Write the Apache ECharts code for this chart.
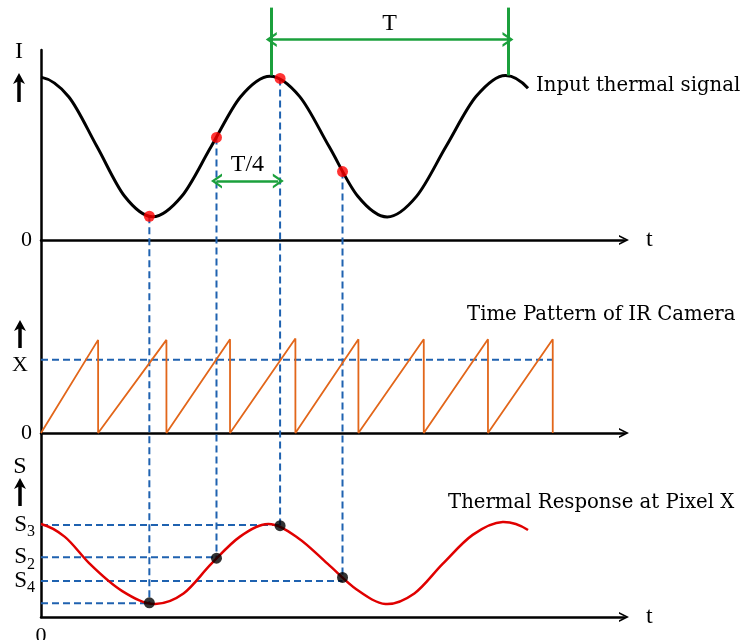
<!DOCTYPE html>
<html>
<head>
<meta charset="utf-8">
<script src="https://cdn.jsdelivr.net/npm/echarts@6/dist/echarts.min.js"></script>
<style>
  html, body { margin: 0; padding: 0; background: #fff; }
  #main { width: 745px; height: 640px; }
</style>
</head>
<body>
<div id="main"></div>
<script>
// input thermal signal: [t, I]
var inputCurve = [
  [0, 8.57], [0.47, 7.54], [0.95, 4.92], [1.42, 2.30], [1.89, 1.22],
  [2.39, 2.30], [2.89, 4.92], [3.39, 7.54], [3.89, 8.62],
  [4.39, 7.56], [4.89, 4.93], [5.38, 2.30], [5.88, 1.21],
  [6.38, 2.31], [6.88, 4.93], [7.39, 7.56], [7.89, 8.66], [8.27, 7.98]
];
// thermal response at pixel X: [t, S]
var responseCurve = [
  [0, 5.92], [0.4, 5.12], [0.83, 3.38], [1.38, 1.65], [1.94, 0.83],
  [2.42, 1.5], [2.89, 3.38], [3.38, 5.12], [3.86, 5.92],
  [4.37, 5.02], [4.87, 3.38], [5.36, 1.75], [5.85, 0.83],
  [6.34, 1.5], [6.82, 3.38], [7.33, 5.23], [7.84, 6.05], [8.27, 5.54]
];
// camera ramp: time of each ramp top and its height
var rampT = [0.97, 2.13, 3.21, 4.32, 5.39, 6.50, 7.59, 8.69];
var rampTop = [7.0, 7.0, 7.05, 7.1, 7.05, 7.05, 7.05, 7.05];
var xLevel = 5.5;
// sampling instants
var probeT = [1.84, 2.98, 4.06, 5.12];
var probeInput = [1.25, 5.40, 8.5, 3.60];
var probeResponse = [0.90, 3.75, 5.82, 2.52];
var sLevels = [0.87, 3.80, 5.86, 2.3];   // S1, S2, S3, S4
// period markers
var periodT = [3.91, 7.93];
var periodLevel = 10.55;
var periodLine = [8.66, 12.23];
var quarterT = [2.98, 4.03];
var quarterLevel = 3.10;

var tMax = 9.9;
var serif = 'Liberation Serif';
var serifWide = 'DejaVu Serif';
var blue = '#1f62b0';
var green = '#1ba03c';
var chevron = 'path://M0,10 L5,0 L10,10 L8.2,10 L5,3.6 L1.8,10 Z';

var myChart = echarts.init(document.getElementById('main'));

var sawtooth = [[0, 0]];
rampT.forEach(function (t, i) {
  sawtooth.push([t, rampTop[i]]);
  sawtooth.push([t, 0]);
});

// slopes for a smooth curve through the points (three point derivative)
function slopes(p) {
  var n = p.length, m = [];
  for (var i = 0; i < n; i++) {
    var a, b, c;
    if (i === 0) { a = p[0]; b = p[1]; c = p[2]; }
    else if (i === n - 1) { a = p[n - 3]; b = p[n - 2]; c = p[n - 1]; }
    else { a = p[i - 1]; b = p[i]; c = p[i + 1]; }
    var d0 = (b[1] - a[1]) / (b[0] - a[0]);
    var d1 = (c[1] - b[1]) / (c[0] - b[0]);
    var f2 = (d1 - d0) / (c[0] - a[0]);
    var x = p[i][0];
    m.push(d0 + f2 * ((x - a[0]) + (x - b[0])));
  }
  return m;
}

function curveSeries(name, grid, points, color, width) {
  return {
    name: name, type: 'custom', xAxisIndex: grid, yAxisIndex: grid, data: points, z: 3,
    renderItem: function (params, api) {
      if (params.dataIndex !== 0) return;
      var m = slopes(points);
      var p0 = api.coord(points[0]);
      var d = 'M' + p0[0] + ',' + p0[1];
      for (var i = 0; i < points.length - 1; i++) {
        var a = points[i], b = points[i + 1], h = b[0] - a[0];
        var c1 = api.coord([a[0] + h / 3, a[1] + m[i] * h / 3]);
        var c2 = api.coord([b[0] - h / 3, b[1] - m[i + 1] * h / 3]);
        var e = api.coord(b);
        d += ' C' + c1[0] + ',' + c1[1] + ' ' + c2[0] + ',' + c2[1] + ' ' + e[0] + ',' + e[1];
      }
      return {
        type: 'path', shape: { pathData: d },
        style: { stroke: color, lineWidth: width, fill: 'none' }
      };
    }
  };
}

function tAxis(grid, withName, withZero) {
  return {
    gridIndex: grid, type: 'value', min: 0, max: tMax,
    name: withName ? 't' : '',
    nameLocation: 'end', nameGap: 22,
    nameTextStyle: { fontFamily: serif, fontSize: 24, color: '#000' },
    axisLine: { show: true, symbol: ['none', chevron], symbolSize: [13, 10],
                lineStyle: { color: '#000', width: 2.5 } },
    axisTick: { show: false },
    splitLine: { show: false },
    axisLabel: withZero ? { customValues: [0], margin: 8, fontFamily: serif, fontSize: 22, color: '#000' }
                        : { show: false }
  };
}

function panel(top, height) {
  return { left: 41, top: top, width: 583, height: height, outerBoundsMode: 'none', containLabel: false };
}

var option = {
  animation: false,
  grid: [panel(50, 567), panel(0, 240), panel(300, 133), panel(460, 157)],
  xAxis: [
    { gridIndex: 0, type: 'value', min: 0, max: tMax, show: false },
    tAxis(1, true, false),
    tAxis(2, false, false),
    tAxis(3, true, true)
  ],
  yAxis: [
    { gridIndex: 0, type: 'value', min: 0, max: 10,
      axisLine: { show: true, lineStyle: { color: '#000', width: 2.5 } },
      axisTick: { show: false }, axisLabel: { show: false }, splitLine: { show: false } },
    { gridIndex: 1, type: 'value', min: 0, max: 12.63,
      axisLine: { show: false }, axisTick: { show: false }, splitLine: { show: false },
      axisLabel: { customValues: [0], margin: 9, fontFamily: serif, fontSize: 22, color: '#000' } },
    { gridIndex: 2, type: 'value', min: 0, max: 10,
      axisLine: { show: false }, axisTick: { show: false }, splitLine: { show: false },
      axisLabel: { customValues: [0, xLevel], margin: 9, fontFamily: serif, fontSize: 22, color: '#000',
        formatter: function (v) { return v === 0 ? '0' : '{x|X}'; },
        rich: { x: { fontFamily: serif, fontSize: 22, padding: [10, 4, 0, 0] } } } },
    { gridIndex: 3, type: 'value', min: 0, max: 10,
      axisLine: { show: false }, axisTick: { show: false }, splitLine: { show: false },
      axisLabel: { customValues: sLevels.slice().sort(), margin: 6, color: '#000',
        formatter: function (v) { return '{s|S}{sub|' + (sLevels.indexOf(v) + 1) + '}'; },
        rich: {
          s: { fontFamily: serif, fontSize: 23, color: '#000' },
          sub: { fontFamily: serif, fontSize: 16, color: '#000', padding: [14, 0, 0, 0] }
        } } }
  ],
  series: [
    curveSeries('Input thermal signal', 1, inputCurve, '#000', 3),
    {
      type: 'scatter', xAxisIndex: 1, yAxisIndex: 1,
      data: probeT.map(function (t, i) { return [t, probeInput[i]]; }),
      symbolSize: 11, itemStyle: { color: '#ff0000' }, z: 10
    },
    {
      type: 'line', xAxisIndex: 1, yAxisIndex: 1, data: [], silent: true,
      markLine: {
        silent: true, symbol: [chevron, chevron], symbolSize: [15, 11],
        lineStyle: { type: 'solid', color: green, width: 2.5 },
        label: { show: true, position: 'middle', formatter: '{b}', distance: 4,
                 fontFamily: serif, fontSize: 24, color: '#000' },
        data: [
          [{ name: 'T', coord: [periodT[0], periodLevel] }, { coord: [periodT[1], periodLevel] }],
          [{ name: 'T/4', coord: [quarterT[0], quarterLevel] }, { coord: [quarterT[1], quarterLevel] }],
          [{ coord: [periodT[0], periodLine[0]], symbol: 'none', label: { show: false }, lineStyle: { width: 3 } },
           { coord: [periodT[0], periodLine[1]], symbol: 'none' }],
          [{ coord: [periodT[1], periodLine[0]], symbol: 'none', label: { show: false }, lineStyle: { width: 3 } },
           { coord: [periodT[1], periodLine[1]], symbol: 'none' }]
        ]
      }
    },
    {
      name: 'Time Pattern of IR Camera', type: 'line', xAxisIndex: 2, yAxisIndex: 2,
      data: sawtooth, symbol: 'none', lineStyle: { color: '#e2661a', width: 1.8 }, z: 3
    },
    {
      type: 'line', xAxisIndex: 2, yAxisIndex: 2,
      data: [[0, xLevel], [rampT[rampT.length - 1], xLevel]],
      symbol: 'none', lineStyle: { color: blue, width: 2, type: [7, 4] }, z: 2
    },
    curveSeries('Thermal Response at Pixel X', 3, responseCurve, '#e00000', 2.5)
  ].concat(sLevels.map(function (s, i) {
    return {
      type: 'line', xAxisIndex: 3, yAxisIndex: 3,
      data: [[0, s], [probeT[i], s]],
      symbol: 'none', lineStyle: { color: blue, width: 2, type: [7, 4] }, z: 2
    };
  })).concat([
    {
      type: 'scatter', xAxisIndex: 3, yAxisIndex: 3,
      data: probeT.map(function (t, i) { return [t, probeResponse[i]]; }),
      symbolSize: 11, itemStyle: { color: '#000' }, z: 10
    }
  ])
};

myChart.setOption(option);

function upArrow(x, yTop, yBottom) {
  return {
    type: 'group', children: [
      { type: 'line', shape: { x1: x, y1: yTop + 8, x2: x, y2: yBottom },
        style: { stroke: '#000', lineWidth: 3.5 } },
      { type: 'polygon', shape: { points: [[x - 6, yTop + 11], [x, yTop], [x + 6, yTop + 11], [x, yTop + 8]] },
        style: { fill: '#000' } }
    ]
  };
}

function label(text, x, y, size, family, align) {
  return { type: 'text', x: x, y: y, z: 20,
    style: { text: text, fontFamily: family, fontSize: size, fill: '#000',
             align: align || 'left', verticalAlign: 'middle' } };
}

var graphics = [
  label('I', 19, 52, 24, serif, 'center'),
  upArrow(19, 73, 102),
  upArrow(20, 320, 348),
  label('S', 20, 467, 24, serif, 'center'),
  upArrow(20, 478, 506),
  label('Input thermal signal', 536, 86, 19.7, serifWide),
  label('Time Pattern of IR Camera', 467, 315, 19.7, serifWide),
  label('Thermal Response at Pixel X', 448, 503, 19.7, serifWide)
];

// dashed drop lines from each input sample down to the response sample
probeT.forEach(function (t, i) {
  var a = myChart.convertToPixel({ gridIndex: 1 }, [t, probeInput[i]]);
  var b = myChart.convertToPixel({ gridIndex: 3 }, [t, probeResponse[i]]);
  graphics.push({
    type: 'line', z: 1, silent: true,
    shape: { x1: a[0], y1: a[1], x2: b[0], y2: b[1] },
    style: { stroke: blue, lineWidth: 2, lineDash: [7, 4] }
  });
});

myChart.setOption({ graphic: graphics });
</script>
</body>
</html>
